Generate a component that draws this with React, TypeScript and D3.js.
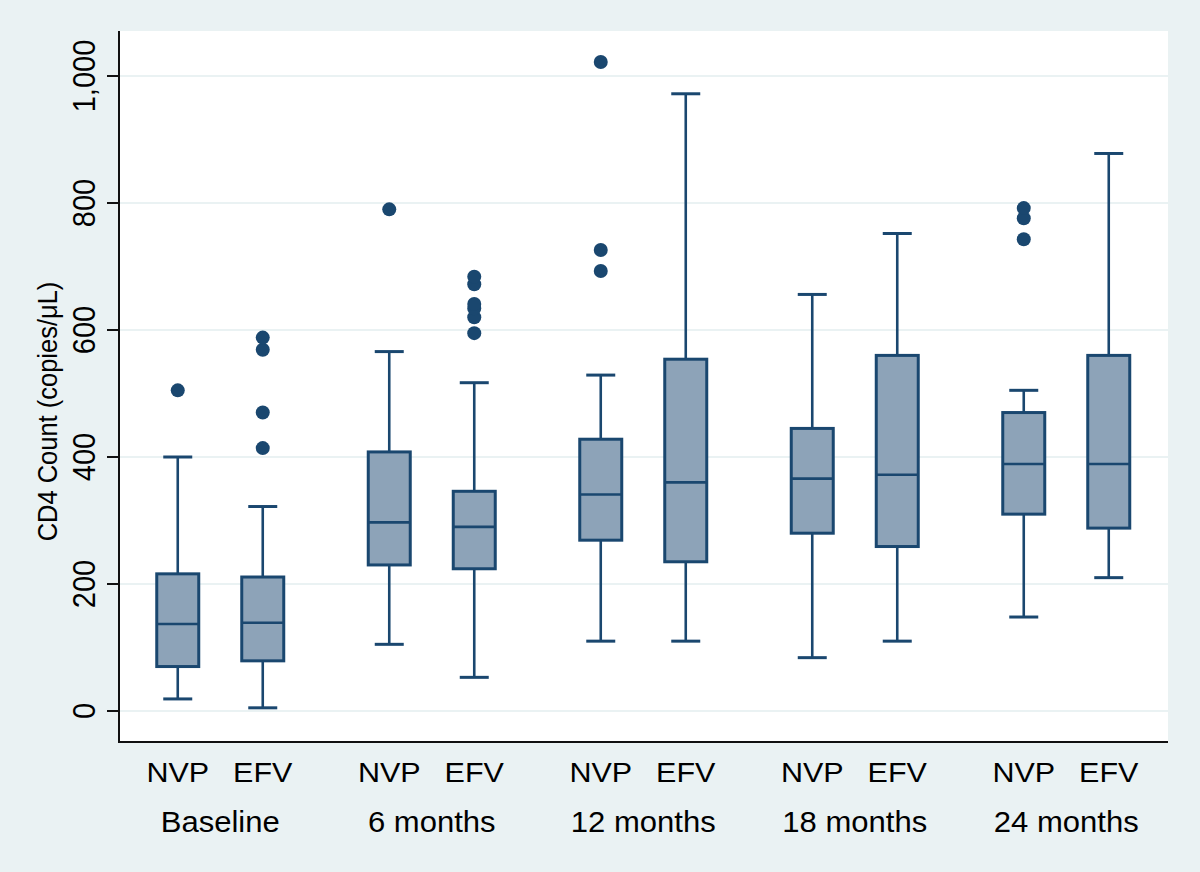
import React from 'react';
import * as d3 from 'd3';

// visits and drugs
const visits = ['Baseline', '6 months', '12 months', '18 months', '24 months'];
const drugs = ['NVP', 'EFV'];

// box stats, one entry per visit x drug (NVP, EFV, NVP, EFV, ...)
const whiskerLow = [19, 5, 105, 53, 110, 110, 84, 110, 148, 210];
const q1 = [70, 79, 230, 224, 269, 235, 280, 259, 310, 288];
const median = [137, 139, 297, 290, 341, 360, 366, 372, 389, 389];
const q3 = [216, 211, 408, 346, 428, 554, 445, 560, 470, 560];
const whiskerHigh = [400, 322, 566, 517, 529, 972, 656, 752, 505, 878];
const outliers = [
    [505],
    [414, 470, 569, 588],
    [790],
    [595, 620, 634, 641, 672, 684],
    [693, 726, 1022],
    [],
    [],
    [],
    [743, 776, 792],
    [],
];

const yTicks = [0, 200, 400, 600, 800, 1000];

const BG = '#EAF2F3';
const NAVY = '#1A476F';
const FILL = '#8DA3B8';
const FONT = '"Liberation Sans", Arial, sans-serif';
const SX = 1.07; // the picture is a bit wider than tall

const App = () => {
    const svgRef = React.useRef(null);

    const W = 1200, H = 872;
    const plot = {left: 119, right: 1168, top: 31, bottom: 742};

    React.useEffect(() => {
        const svg = d3.select(svgRef.current);
        svg.selectAll('*').remove();

        svg.append('rect')
            .attr('width', W).attr('height', H)
            .attr('fill', BG);

        svg.append('rect')
            .attr('x', plot.left).attr('y', plot.top)
            .attr('width', plot.right - plot.left)
            .attr('height', plot.bottom - plot.top)
            .attr('fill', 'white');

        // scales
        const y = d3.scaleLinear()
            .domain([0, 1000])
            .range([711, 76]);

        const x = d3.scaleBand()
            .domain(visits)
            .range([114.5, 1172]);

        const xDrug = d3.scalePoint()
            .domain(drugs)
            .range([-42.5, 42.5]);

        const boxW = 42, capW = 29;

        // grid
        svg.append('g')
            .selectAll('line')
            .data(yTicks)
            .enter()
                .append('line')
                .attr('x1', plot.left)
                .attr('x2', plot.right)
                .attr('y1', (d) => y(d))
                .attr('y2', (d) => y(d))
                .attr('stroke', BG)
                .attr('stroke-width', 2);

        // boxes
        const rows = d3.range(whiskerLow.length).map((i) => ({
            cx: x(visits[Math.floor(i / 2)]) + x.bandwidth() / 2 + xDrug(drugs[i % 2]),
            lo: whiskerLow[i], q1: q1[i], med: median[i], q3: q3[i], hi: whiskerHigh[i],
            out: outliers[i],
        }));

        const g = svg.append('g')
            .attr('stroke', NAVY)
            .attr('stroke-width', 2.6);

        const box = g.selectAll('g.box')
            .data(rows)
            .enter()
                .append('g')
                .attr('class', 'box');

        // whiskers
        box.append('line')
            .attr('x1', (d) => d.cx).attr('x2', (d) => d.cx)
            .attr('y1', (d) => y(d.q3)).attr('y2', (d) => y(d.hi));
        box.append('line')
            .attr('x1', (d) => d.cx).attr('x2', (d) => d.cx)
            .attr('y1', (d) => y(d.q1)).attr('y2', (d) => y(d.lo));
        box.append('line')
            .attr('x1', (d) => d.cx - capW / 2).attr('x2', (d) => d.cx + capW / 2)
            .attr('y1', (d) => y(d.hi)).attr('y2', (d) => y(d.hi))
            .attr('stroke-width', 3);
        box.append('line')
            .attr('x1', (d) => d.cx - capW / 2).attr('x2', (d) => d.cx + capW / 2)
            .attr('y1', (d) => y(d.lo)).attr('y2', (d) => y(d.lo))
            .attr('stroke-width', 3);

        box.append('rect')
            .attr('x', (d) => d.cx - boxW / 2)
            .attr('width', boxW)
            .attr('y', (d) => y(d.q3))
            .attr('height', (d) => y(d.q1) - y(d.q3))
            .attr('fill', FILL)
            .attr('stroke-width', 3);

        box.append('line')
            .attr('x1', (d) => d.cx - boxW / 2).attr('x2', (d) => d.cx + boxW / 2)
            .attr('y1', (d) => y(d.med)).attr('y2', (d) => y(d.med));

        box.selectAll('circle')
            .data((d) => d.out.map((v) => ({cx: d.cx, v})))
            .enter()
                .append('circle')
                .attr('cx', (d) => d.cx)
                .attr('cy', (d) => y(d.v))
                .attr('r', 7)
                .attr('fill', NAVY)
                .attr('stroke', 'none');

        // axes
        svg.append('line')
            .attr('x1', plot.left).attr('x2', plot.left)
            .attr('y1', plot.top).attr('y2', plot.bottom + 1)
            .attr('stroke', '#111').attr('stroke-width', 2);
        svg.append('line')
            .attr('x1', plot.left - 1).attr('x2', plot.right)
            .attr('y1', plot.bottom).attr('y2', plot.bottom)
            .attr('stroke', '#111').attr('stroke-width', 2);

        const yAxis = svg.append('g');
        yAxis.selectAll('line')
            .data(yTicks)
            .enter()
                .append('line')
                .attr('x1', plot.left - 12).attr('x2', plot.left)
                .attr('y1', (d) => y(d)).attr('y2', (d) => y(d))
                .attr('stroke', '#111').attr('stroke-width', 2);
        yAxis.selectAll('text')
            .data(yTicks)
            .enter()
                .append('text')
                .attr('transform', (d) => `translate(95,${y(d)}) scale(${SX},1) rotate(-90)`)
                .attr('text-anchor', 'middle')
                .style('font-family', FONT)
                .style('font-size', '29px')
                .attr('fill', '#000')
                .text((d) => d3.format(',')(d));

        svg.append('text')
            .attr('transform', `translate(57,${(plot.top + plot.bottom) / 2 + 25}) scale(${SX},1) rotate(-90)`)
            .attr('text-anchor', 'middle')
            .style('font-family', FONT)
            .style('font-size', '25.5px')
            .attr('fill', '#000')
            .text('CD4 Count (copies/\u03BCL)');

        // x labels
        svg.append('g')
            .selectAll('text')
            .data(rows)
            .enter()
                .append('text')
                .attr('transform', (d) => `translate(${d.cx},782) scale(${SX},1)`)
                .attr('text-anchor', 'middle')
                .style('font-family', FONT)
                .style('font-size', '28.5px')
                .attr('fill', '#000')
                .text((d, i) => drugs[i % 2]);

        svg.append('g')
            .selectAll('text')
            .data(visits)
            .enter()
                .append('text')
                .attr('transform', (d) => `translate(${x(d) + x.bandwidth() / 2},832) scale(${SX},1)`)
                .attr('text-anchor', 'middle')
                .style('font-family', FONT)
                .style('font-size', '29px')
                .attr('fill', '#000')
                .text((d) => d);

    // eslint-disable-next-line react-hooks/exhaustive-deps
    }, []);

    return (
        <svg ref={svgRef} width={W} height={H}
            style={{position: 'absolute', left: 0, top: 0, display: 'block'}} />
    );
};

export default App;
